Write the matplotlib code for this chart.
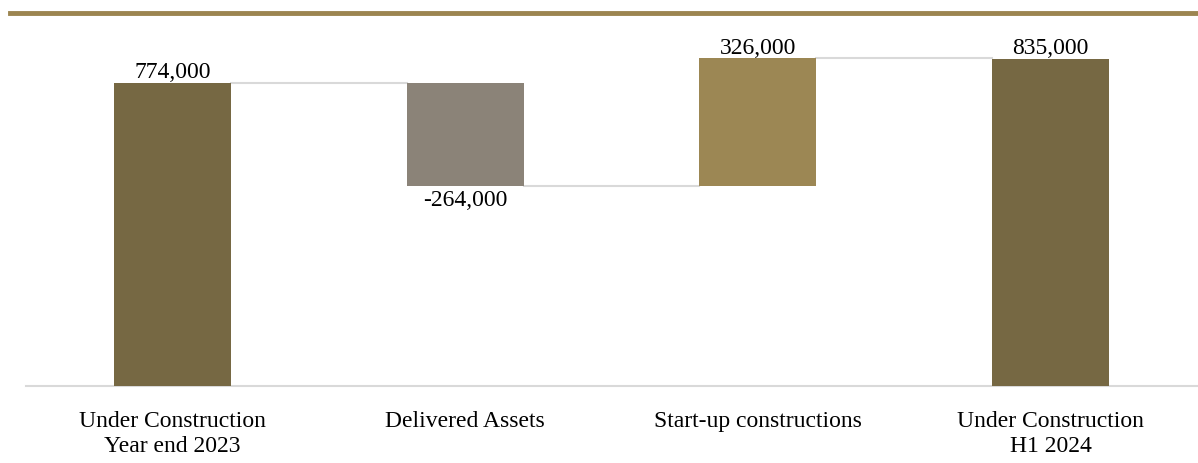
import numpy as np
import matplotlib.pyplot as plt

plt.rcParams['font.family'] = ['Liberation Serif', 'DejaVu Serif']

categories = ["Under Construction\nYear end 2023", "Delivered Assets",
              "Start-up constructions", "Under Construction\nH1 2024"]
values = [774000, -264000, 326000, 835000]
labels = ["774,000", "-264,000", "326,000", "835,000"]
is_total = [True, False, False, True]
colors = ["#766843", "#8b8378", "#9c8754", "#766843"]

# waterfall bottoms / tops
bottoms = []
heights = []
running = 0
for v, tot in zip(values, is_total):
    if tot:
        bottoms.append(0)
        heights.append(v)
        running = v
    else:
        if v < 0:
            bottoms.append(running + v)
            heights.append(-v)
        else:
            bottoms.append(running)
            heights.append(v)
        running += v

fig = plt.figure(figsize=(11.98, 4.64), dpi=100)
ax = fig.add_axes([0.022, 0.166, 0.977, 0.76])

x = np.arange(len(categories))
w = 0.4
ax.bar(x, heights, bottom=bottoms, width=w, color=colors, zorder=3)

# connectors
running = 0
levels = []
for v, tot in zip(values, is_total):
    running = v if tot else running + v
    levels.append(running)
for i in range(len(x) - 1):
    ax.plot([x[i] + w / 2, x[i + 1] - w / 2], [levels[i], levels[i]],
            color="#d9d9d9", lw=1.5, zorder=2)

for i, (v, lab) in enumerate(zip(values, labels)):
    if v < 0:
        ax.text(x[i], bottoms[i] - 8000, lab, ha="center", va="top", fontsize=17)
    else:
        ax.text(x[i], bottoms[i] + heights[i] + 2000, lab, ha="center",
                va="bottom", fontsize=17)

ax.set_xlim(-0.5, 3.5)
ax.set_ylim(0, 900000)
ax.set_xticks(x)
ax.set_xticklabels(categories, fontsize=17, linespacing=1.3)
ax.tick_params(axis="x", length=0, pad=17)
ax.set_yticks([])
for s in ["top", "right", "left"]:
    ax.spines[s].set_visible(False)
ax.spines["bottom"].set_color("#d9d9d9")
ax.spines["bottom"].set_linewidth(1.5)

# golden rule at the top
fig.add_artist(plt.Line2D([0.008, 1.0], [0.97, 0.97], color="#9c8550", lw=3.5,
                          transform=fig.transFigure))

fig.savefig("out.png", dpi=100)
